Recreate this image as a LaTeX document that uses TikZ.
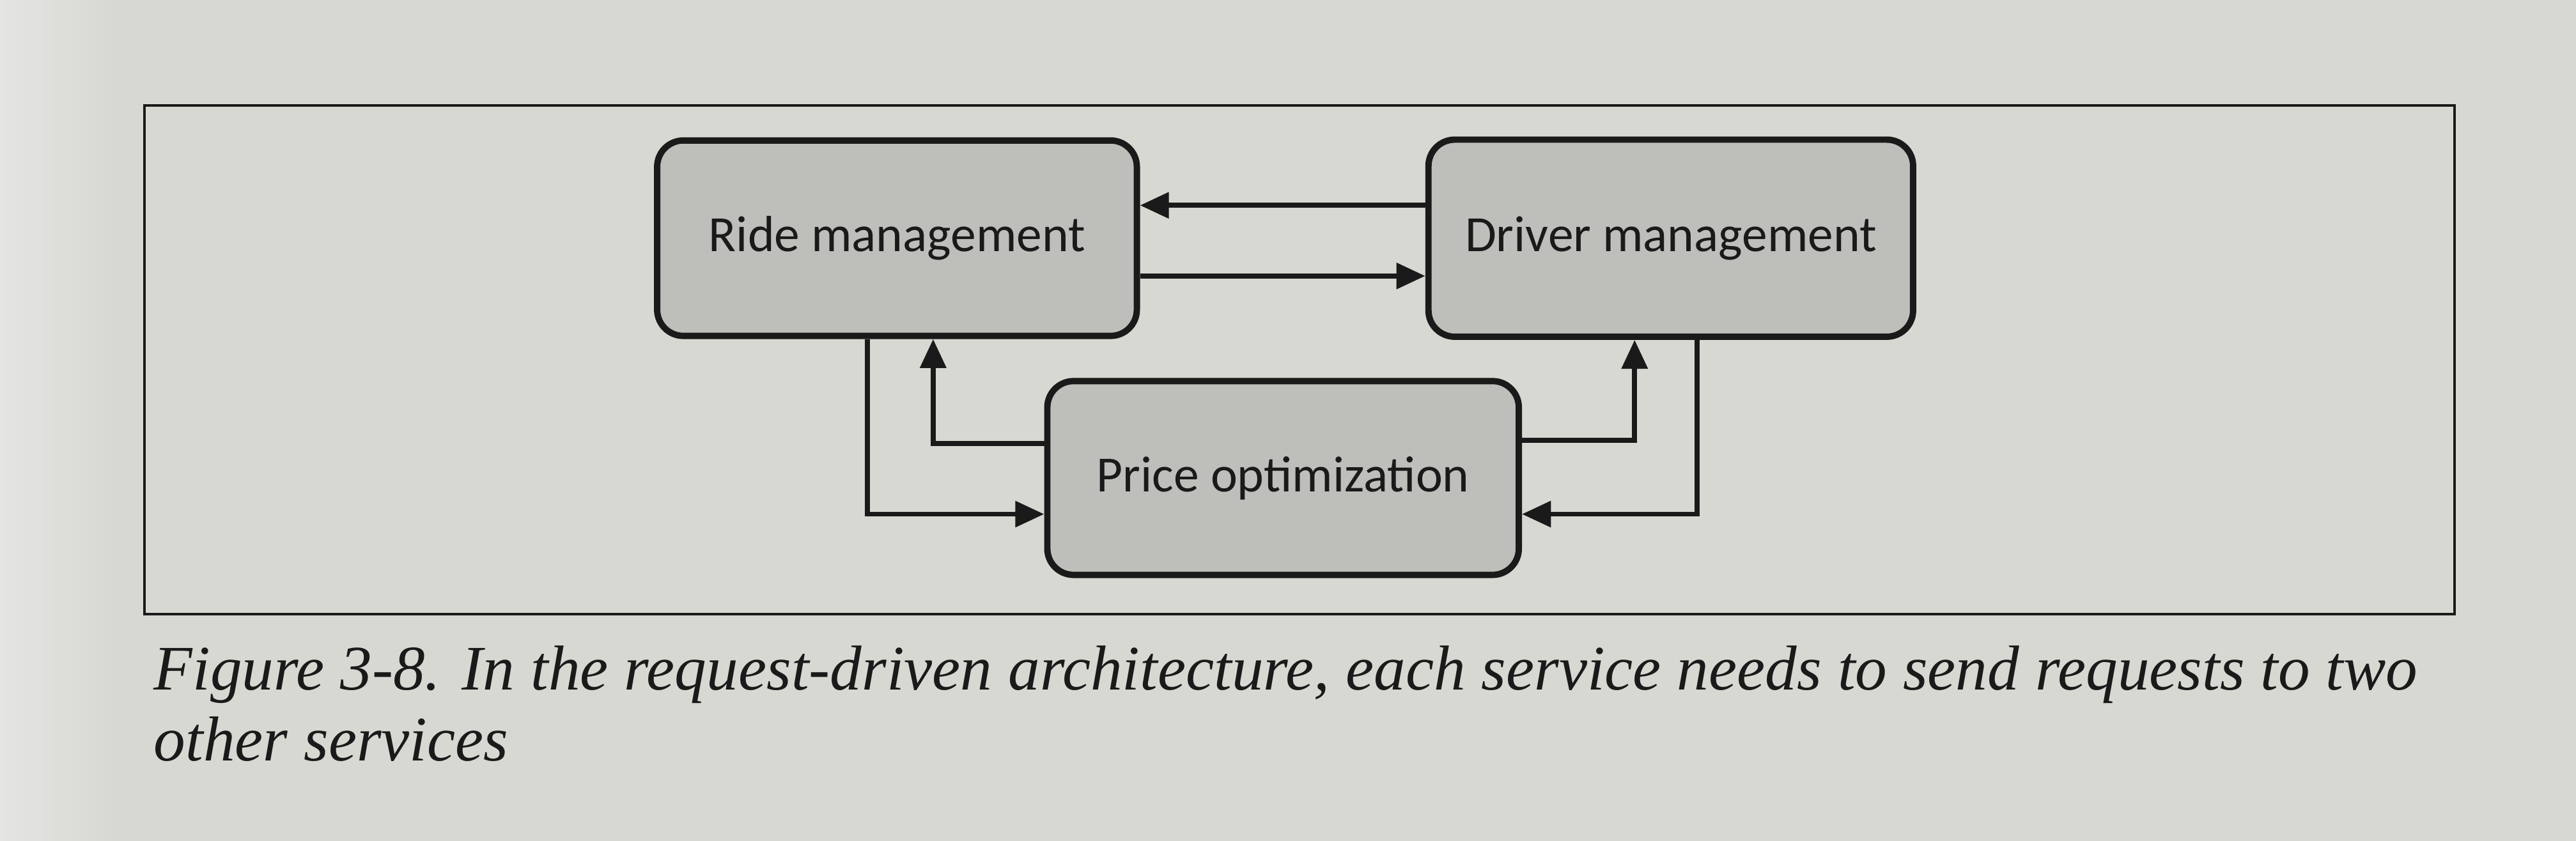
\documentclass[tikz,border=0pt]{standalone}
\usepackage{fontspec}
\setmainfont{Liberation Serif}
\newfontfamily\boxfont{Carlito}
\usetikzlibrary{arrows.meta}
\definecolor{pagecol}{RGB}{216,216,211}
\definecolor{edgecol}{RGB}{228,229,227}
\definecolor{boxcol}{RGB}{190,190,186}
\definecolor{inkcol}{RGB}{26,26,26}
\tikzset{
  service/.style={draw=inkcol, line width=1.1pt, fill=boxcol, rounded corners=1.6mm,
    font=\boxfont\fontsize{8.8}{10}\selectfont, text=inkcol},
  arr/.style={draw=inkcol, line width=0.85pt, -{Triangle[length=5pt,width=4.4pt]}}
}

\begin{document}
\begin{tikzpicture}[x=0.1mm, y=-0.1mm]
        \useasboundingbox (0, 0) rectangle (1568, 512);
        \fill[pagecol] (0, 0) rectangle (1568, 512);
        \shade[left color=edgecol, right color=pagecol] (0, 0) rectangle (70, 512);
        \draw[inkcol, line width=0.45pt] (88, 64) rectangle (1494, 374);

        \node[service, minimum width=2.92cm, minimum height=1.19cm] (ride) at (546, 145) {Ride management};
        \node[service, minimum width=2.95cm, minimum height=1.2cm] (drv) at (1017, 145) {Driver management};
        \node[service, minimum width=2.87cm, minimum height=1.18cm] (price) at (781, 291) {Price optimization};

        \draw[arr] ([yshift=2mm]drv.west) -- ([yshift=2mm]ride.east);
        \draw[arr] ([yshift=-2.3mm]ride.east) -- ([yshift=-2.3mm]drv.west);
        \draw[arr] ([xshift=-1.8mm]ride.south) |- ([yshift=-2.2mm]price.west);
        \draw[arr] ([yshift=2.1mm]price.west) -| ([xshift=2.2mm]ride.south);
        \draw[arr] ([yshift=2.3mm]price.east) -| ([xshift=-2.2mm]drv.south);
        \draw[arr] ([xshift=1.6mm]drv.south) |- ([yshift=-2.2mm]price.east);

        \node[anchor=base west, inner sep=0pt, align=left, text=inkcol,
          font=\itshape\fontsize{11}{12.2}\selectfont] (caption) at (93, 463)
          {Figure 3-8. In the request-driven architecture, each service needs to send requests to two\\other services};
\end{tikzpicture}
\end{document}
